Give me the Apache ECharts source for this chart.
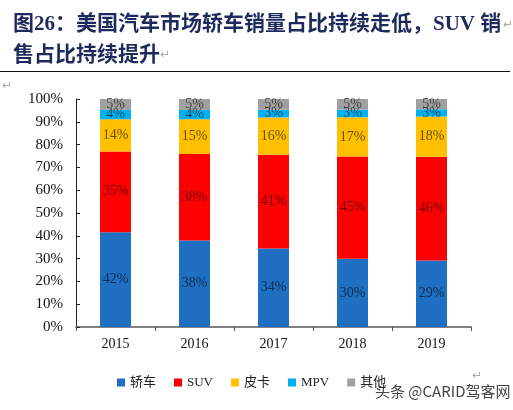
<!DOCTYPE html>
<html><head><meta charset="utf-8">
<script src="https://cdn.jsdelivr.net/npm/echarts@6/dist/echarts.min.js"></script>
<style>html,body{margin:0;padding:0;background:#fff}#c{width:513px;height:410px}</style>
</head><body><div id="c"></div>
<script>
var years = ['2015','2016','2017','2018','2019'];
var sedan = [41.6, 37.9, 34.4, 29.9, 29.2];
var suv = [35.4, 38.0, 41.2, 44.9, 45.5];
var pickup = [14.1, 15.2, 16.3, 17.2, 17.6];
var mpv = [4.1, 4.1, 3.4, 3.4, 3.2];
var other = [4.8, 4.8, 4.7, 4.6, 4.5];
var seriesNames = ['轿车', 'SUV', '皮卡', 'MPV', '其他'];
var yTicks = [0, 10, 20, 30, 40, 50, 60, 70, 80, 90, 100];

var colors = ['#1F6FC3', '#FF0000', '#FFC000', '#00B0F0', '#A0A0A0'];
var serif = '"Liberation Serif","Times New Roman","Noto Sans CJK SC",serif';
var chart = echarts.init(document.getElementById('c'));
var dataSets = [sedan, suv, pickup, mpv, other];
var series = dataSets.map(function (d, i) {
  return {
    name: seriesNames[i], type: 'bar', stack: 'total', data: d,
    barWidth: 31, itemStyle: { color: colors[i] },
    label: {
      show: true, position: 'inside',
      formatter: function (p) { return Math.round(p.value) + '%'; },
      fontFamily: serif, fontSize: 14, color: 'rgba(0,0,0,0.6)'
    }
  };
});
chart.setOption({
  animation: false,
  color: colors,
  grid: { left: 76, right: 42, top: 99, bottom: 83 },
  xAxis: {
    type: 'category', data: years,
    axisLine: { lineStyle: { color: '#808080', width: 2 } },
    axisTick: { show: true, length: 4, inside: false, lineStyle: { color: '#555' } },
    axisLabel: { fontFamily: serif, fontSize: 14, color: '#111', margin: 10 }
  },
  yAxis: {
    type: 'value', min: 0, max: 100, interval: 10,
    axisLine: { show: true, lineStyle: { color: '#222', width: 1 } },
    axisTick: { show: true, inside: true, length: 4, lineStyle: { color: '#222' } },
    splitLine: { show: false },
    axisLabel: { fontFamily: serif, fontSize: 15, color: '#111', margin: 13,
      formatter: function (v) { return yTicks.indexOf(v) >= 0 ? v + '%' : ''; } }
  },
  legend: {
    data: seriesNames, left: 112, top: 371, itemWidth: 8, itemHeight: 8, itemGap: 18,
    icon: 'rect',
    textStyle: { fontFamily: serif, fontSize: 13, color: '#222' }
  },
  graphic: [
    { type: 'text', left: 13, top: 14, style: { text: '图26：美国汽车市场轿车销量占比持续走低，SUV 销', font: 'bold 21px "Liberation Serif","Noto Sans CJK SC",serif', fill: '#1F2A5C' } },
    { type: 'text', left: 503, top: 19, style: { text: '↵', font: '12px "DejaVu Sans"', fill: '#aaa' } },
    { type: 'text', left: 13, top: 43, style: { text: '售占比持续提升', font: 'bold 21px "Noto Sans CJK SC",serif', fill: '#1F2A5C' } },
    { type: 'text', left: 160, top: 49, style: { text: '↵', font: '12px "DejaVu Sans"', fill: '#aaa' } },
    { type: 'line', shape: { x1: 0, y1: 71.5, x2: 510, y2: 71.5 }, style: { stroke: '#111', lineWidth: 1 } },
    { type: 'text', left: 2, top: 80, style: { text: '↵', font: '12px "DejaVu Sans"', fill: '#aaa' } },
    { type: 'text', left: 472, top: 370, style: { text: '↵', font: '12px "DejaVu Sans"', fill: '#aaa' } },
    { type: 'text', left: 374, top: 383, style: { text: '头条 @CARID驾客网', font: '15px "Noto Sans CJK SC",sans-serif', fill: '#444', stroke: '#fff', lineWidth: 2 } }
  ],
  series: series
});
</script></body></html>
